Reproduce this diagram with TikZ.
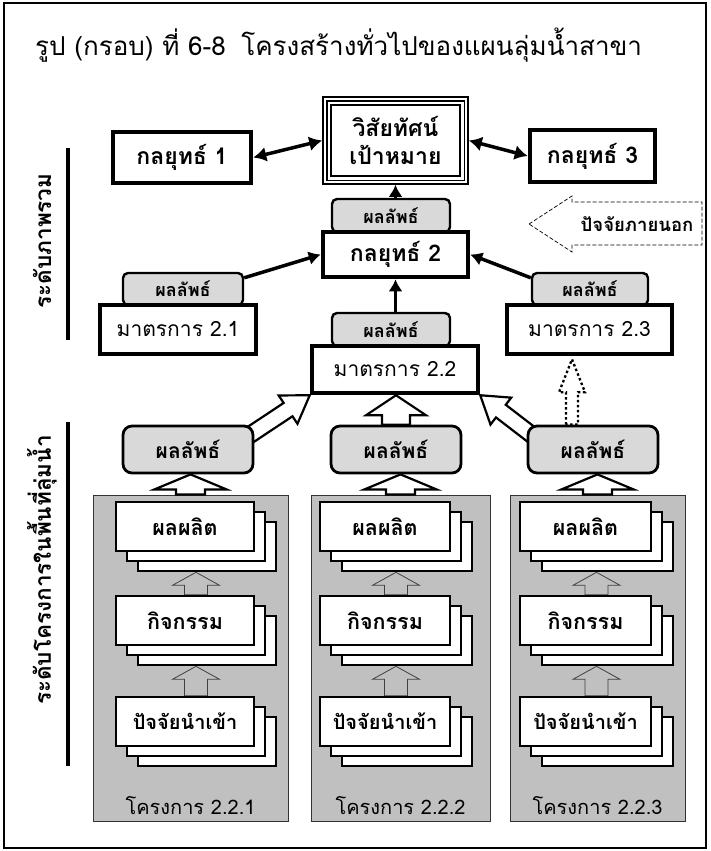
\documentclass[tikz,border=0pt]{standalone}
\usepackage{fontspec}
\setmainfont[Script=Thai]{Loma}
\usetikzlibrary{calc,arrows.meta}
\definecolor{panelgray}{HTML}{C0C0C0}
\definecolor{resgray}{HTML}{D9D9D9}
\definecolor{arrgray}{HTML}{404040}
\pgfdeclarelayer{back}\pgfdeclarelayer{mid}\pgfsetlayers{back,mid,main}
% block arrow: [style]{start}{tip}{shaft half width}{head half width}{head length}
\newcommand{\blkarrow}[6][]{%
  \coordinate (bahd) at ($(#3)!#6!(#2)$);
  \draw[#1] ($(#2)!#4!90:(#3)$) -- ($(bahd)!#4!-90:(#2)$) -- ($(bahd)!#5!-90:(#2)$) -- (#3) -- ($(bahd)!#5!90:(#2)$) -- ($(bahd)!#4!90:(#2)$) -- ($(#2)!#4!-90:(#3)$) -- cycle;}
\begin{document}
\begin{tikzpicture}[x=1pt,y=-1pt,
  title/.style={font=\fontsize{26}{30}\selectfont, anchor=west, inner sep=0pt},
  strat/.style={draw, line width=4.5pt, fill=white, inner sep=0pt, font=\fontsize{23}{26}\selectfont\bfseries},
  meas/.style={draw, line width=4.5pt, fill=white, inner sep=0pt, font=\fontsize{21}{24}\selectfont},
  vis/.style={draw, line width=1.6pt, fill=white, inner sep=0pt, align=center, font=\fontsize{23}{28}\selectfont\bfseries},
  res/.style={draw, line width=2.4pt, rounded corners=5pt, fill=resgray, inner sep=0pt, font=\fontsize{18}{20}\selectfont\bfseries},
  bres/.style={draw, line width=2.8pt, rounded corners=9pt, fill=resgray, inner sep=0pt, minimum width=130pt, minimum height=47pt, font=\fontsize{21}{24}\selectfont\bfseries},
  panel/.style={draw=black!80, line width=0.9pt, fill=panelgray, inner sep=0pt},
  stk/.style={draw, line width=2.6pt, fill=white, inner sep=0pt, minimum height=49pt, font=\fontsize{21.5}{24}\selectfont\bfseries},
  plabel/.style={font=\fontsize{20}{24}\selectfont, inner sep=0pt},
  side/.style={font=\fontsize{22.5}{26}\selectfont\bfseries, inner sep=0pt, rotate=90},
  extlbl/.style={font=\fontsize{18.5}{22}\selectfont\bfseries, inner sep=0pt},
  extdash/.style={draw, line width=0.7pt, dash pattern=on 4pt off 2pt},
  dblarr/.style={line width=3.5pt, {Latex[length=13pt,width=15pt]}-{Latex[length=13pt,width=15pt]}},
  onearr/.style={line width=3.5pt, -{Latex[length=12pt,width=14pt]}},
  warrow/.style={draw, line width=2.2pt, fill=white, line join=miter},
  garrow/.style={draw=arrgray, line width=0.8pt, fill=panelgray},
  dotarrow/.style={draw, line width=2.3pt, dash pattern=on 2.5pt off 2.5pt},
  sideline/.style={line width=4pt}
]
\useasboundingbox (0,0) rectangle (710,851);
\draw[line width=1.5pt] (4,3) rectangle (706,848);

\node[title] (title) at (35,45) {รูป (กรอบ) ที่ 6-8\hspace{0.6em}โครงสร้างทั่วไปของแผนลุ่มน้ำสาขา};

% top level
\node[vis, minimum width=145pt, minimum height=87pt] (v) at (395.5,140.5) {วิสัยทัศน์\\เป้าหมาย};
\draw[line width=1.6pt] ([shift={(4.5pt,-4.5pt)}]v.north west) rectangle ([shift={(-4.5pt,4.5pt)}]v.south east);
\draw[line width=1.6pt] ([shift={(9pt,-9pt)}]v.north west) rectangle ([shift={(-9pt,9pt)}]v.south east);
\node[strat, minimum width=138pt, minimum height=51pt] (s1) at (182,157.5) {กลยุทธ์ 1};
\node[strat, minimum width=125pt, minimum height=52pt] (s3) at (592.5,156) {กลยุทธ์ 3};
\node[res, minimum width=118pt, minimum height=33pt] (rt) at (391,215.5) {ผลลัพธ์};
\node[strat, minimum width=145pt, minimum height=45pt] (s2) at (395.5,254.5) {กลยุทธ์ 2};

\node[res, minimum width=120pt, minimum height=32pt] (rl) at (183,289) {ผลลัพธ์};
\node[meas, minimum width=156pt, minimum height=49pt] (m21) at (178,329.5) {มาตรการ 2.1};
\node[res, minimum width=118pt, minimum height=33pt] (rm) at (391,329.5) {ผลลัพธ์};
\node[meas, minimum width=166pt, minimum height=47pt] (m22) at (395,369.5) {มาตรการ 2.2};
\node[res, minimum width=116pt, minimum height=32pt] (rr) at (590,289) {ผลลัพธ์};
\node[meas, minimum width=165pt, minimum height=49pt] (m23) at (589.5,329.5) {มาตรการ 2.3};

% external factor
\node[extlbl] (ext) at (637,224) {ปัจจัยภายนอก};
\draw[extdash] (529,224) -- (572,196) -- (572,202) -- (702,202) -- (702,245) -- (572,245) -- (572,252) -- cycle;

% side labels
\node[side] (lv1) at (42,241) {ระดับภาพรวม};
\node[side] (lv2) at (42,570) {ระดับโครงการในพื้นที่ลุ่มน้ำ};
\draw[sideline] (68,148) -- (68,340);
\draw[sideline] (68,422) -- (68,766);

% project panels
\foreach \i/\px/\pw/\fx/\fw/\bx in {1/190.5/195/185/138/188, 2/400.5/179/385/130/396, 3/597.5/175/585.5/131/593}{
  \begin{pgfonlayer}{back}
    \node[panel, minimum width=\pw pt, minimum height=326pt] (p\i) at (\px,658) {};
  \end{pgfonlayer}
  \node[plabel] (pl\i) at (\px,806) {โครงการ 2.2.\i};
  \node[bres] (b\i) at (\bx,449.5) {ผลลัพธ์};
  \foreach \rw/\ry/\rt/\fs in {o/526.5/ผลผลิต/21.5, k/620.5/กิจกรรม/21.5, n/721.5/ปัจจัยนำเข้า/20}{
    \node[stk, minimum width=\fw pt] (\rw c\i) at (\fx+22,\ry+20) {};
    \node[stk, minimum width=\fw pt] (\rw b\i) at (\fx+11,\ry+10) {};
    \node[stk, minimum width=\fw pt, font=\fontsize{\fs}{24}\selectfont\bfseries] (\rw\i) at (\fx,\ry) {\rt};
  }
}

\begin{pgfonlayer}{mid}
  \draw[dblarr] (s1.east) -- (v.west);
  \draw[dblarr] (v.east) -- (s3.west);
  \draw[onearr] (rt.north -| v.south) -- (v.south);
  \draw[onearr] (rm.north -| s2.south) -- (s2.south);
  \draw[onearr] ($(rl.north east)+(0,6)$) -- (s2.west);
  \draw[onearr] ($(rr.north west)+(0,6)$) -- (s2.east);
  \foreach \i in {1,2,3}{
    \coordinate (pas\i) at (p\i.north);
    \coordinate (pat\i) at (p\i.north |- b\i.south);
    \blkarrow[warrow]{pas\i}{pat\i}{14.5pt}{36pt}{15pt}
    \foreach \lb/\ua in {k/o, n/k}{
      \coordinate (gs) at ($(\lb\i.north)+(11,0)$);
      \coordinate (gt) at ($(\ua c\i.south)+(-11,0)$);
      \blkarrow[garrow]{gs}{gt}{11.5pt}{23.5pt}{13pt}
    }
  }
  \coordinate (mas) at (b2.north);
  \coordinate (mat) at (b2.north |- m22.south);
  \blkarrow[warrow]{mas}{mat}{14pt}{30pt}{20pt}
  \coordinate (d1s) at ($(b1.north east)+(-10,14)$);
  \coordinate (d1t) at (m22.south west);
  \blkarrow[warrow]{d1s}{d1t}{8pt}{17pt}{26pt}
  \coordinate (d3s) at ($(b3.north west)+(10,14)$);
  \coordinate (d3t) at (m22.south east);
  \blkarrow[warrow]{d3s}{d3t}{8pt}{17pt}{26pt}
  \coordinate (dts) at ($(b3.north)+(-21,0)$);
  \coordinate (dtt) at ($(dts |- m23.south)+(0,3)$);
  \blkarrow[dotarrow]{dts}{dtt}{6pt}{13pt}{33pt}
\end{pgfonlayer}
\end{tikzpicture}
\end{document}
